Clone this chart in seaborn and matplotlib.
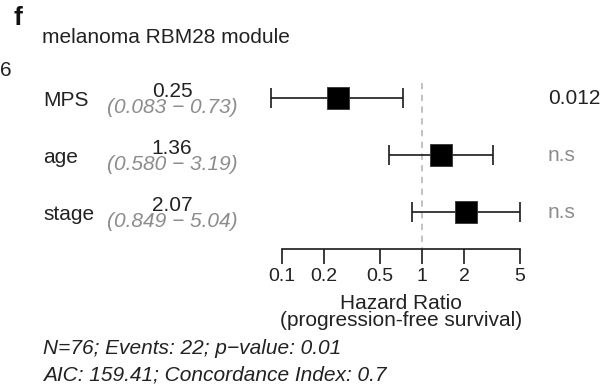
import matplotlib
matplotlib.use("Agg")
import matplotlib.pyplot as plt
import seaborn as sns
import numpy as np
import pandas as pd

# Cox model: melanoma RBM28 module
variables = ["MPS", "age", "stage"]
hazard_ratio = [0.25, 1.36, 2.07]
ci_low = [0.083, 0.580, 0.849]
ci_high = [0.73, 3.19, 5.04]
hr_labels = ["0.25", "1.36", "2.07"]
ci_labels = ["(0.083 \u2212 0.73)", "(0.580 \u2212 3.19)", "(0.849 \u2212 5.04)"]
p_labels = ["0.012", "n.s", "n.s"]
x_ticks = [0.1, 0.2, 0.5, 1, 2, 5]
x_tick_labels = ["0.1", "0.2", "0.5", "1", "2", "5"]
footer = ["N=76; Events: 22; p\u2212value: 0.01",
          "AIC: 159.41; Concordance Index: 0.7"]

sns.set_theme(style="white")
plt.rcParams["font.family"] = ["Liberation Sans", "DejaVu Sans"]

W, H = 608, 391
fig = plt.figure(figsize=(W / 100, H / 100), dpi=100)
ax = fig.add_axes([0, 0, 1, 1])
ax.patch.set_alpha(0)


def fx(x):
    return x / W


def fy(y):
    return 1 - y / H


# layout in pixels
x01, dec = 282.0, 140.0          # pixel of HR=0.1, pixels per decade
row0, row_step = 98.0, 57.0      # first row centre, row spacing
axis_y = 249.0

df = pd.DataFrame({"var": variables, "hr": hazard_ratio,
                   "lo": ci_low, "hi": ci_high})
df["row"] = np.arange(len(df))

ax.set_xscale("log")
ax.set_xlim(10 ** (-1 - x01 / dec), 10 ** (-1 + (W - x01) / dec))
ax.set_ylim((H - row0) / row_step, (0 - row0) / row_step)

# reference line at HR = 1
ax.plot([1, 1], [(83 - row0) / row_step, (axis_y - row0) / row_step],
        color="#bdbdbd", lw=1.3, ls=(0, (3.5, 3)), zorder=1)

# confidence intervals
hr = df["hr"].to_numpy()
ax.errorbar(hr, df["row"], xerr=[hr - df["lo"].to_numpy(), df["hi"].to_numpy() - hr],
            fmt="none", ecolor="#1a1a1a", elinewidth=1.2, capsize=7.2,
            capthick=1.2, zorder=2)

# point estimates
sns.scatterplot(data=df, x="hr", y="row", marker="s", s=250, color="black",
                edgecolor="#333333", linewidth=0.6, ax=ax, zorder=3, legend=False)

# x axis
for s in ["top", "left", "right"]:
    ax.spines[s].set_visible(False)
ax.spines["bottom"].set_position(("data", (axis_y - row0) / row_step))
ax.spines["bottom"].set_bounds(0.1, 5)
ax.spines["bottom"].set_color("#1a1a1a")
ax.spines["bottom"].set_linewidth(1.2)
ax.set_xticks(x_ticks)
ax.set_xticklabels(x_tick_labels)
ax.minorticks_off()
ax.tick_params(axis="x", bottom=True, direction="out", length=10.5, width=1.2,
               color="#1a1a1a", labelsize=14, labelcolor="#222222", pad=3)
ax.set_yticks([])
ax.set_xlabel("")
ax.set_ylabel("")
ax.grid(False)

fig.text(fx(401), fy(312), "Hazard Ratio\n(progression-free survival)",
         ha="center", va="center", fontsize=15, color="#222222", linespacing=0.85)

# row annotations
for i, r in df.iterrows():
    yc = row0 + row_step * r["row"]
    fig.text(fx(43), fy(yc + 8), variables[i], ha="left", va="baseline",
             fontsize=15, color="#222222")
    fig.text(fx(172), fy(yc - 1), hr_labels[i], ha="center", va="baseline",
             fontsize=15, color="#222222")
    fig.text(fx(172), fy(yc + 15), ci_labels[i], ha="center", va="baseline",
             fontsize=15, color="#8c8c8c", style="italic")
    fig.text(fx(548), fy(yc), p_labels[i], ha="left", va="center", fontsize=15,
             color="#222222" if p_labels[i] != "n.s" else "#8c8c8c")

# panel letter, title, edge label
fig.text(fx(13), fy(18), "f", ha="left", va="center", fontsize=19,
         fontweight="bold", color="#111111")
fig.text(fx(42), fy(43), "melanoma RBM28 module", ha="left", va="baseline",
         fontsize=15, color="#222222")
fig.text(fx(0), fy(70), "6", ha="left", va="center", fontsize=15, color="#222222")

# model summary
fig.text(fx(43), fy(349), footer[0], ha="left", va="center", fontsize=15,
         color="#222222", style="italic")
fig.text(fx(43), fy(375), footer[1], ha="left", va="center", fontsize=15,
         color="#222222", style="italic")

fig.savefig("out.png", dpi=100)
